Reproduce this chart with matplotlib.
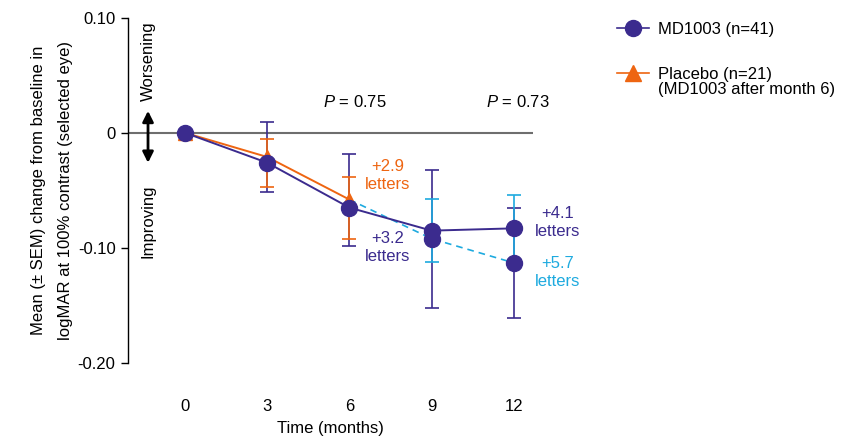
import numpy as np
import matplotlib
import matplotlib.pyplot as plt
from matplotlib.lines import Line2D

matplotlib.use("Agg")

plt.rcParams["font.family"] = ["Liberation Sans", "DejaVu Sans"]
plt.rcParams["mathtext.fontset"] = "custom"
plt.rcParams["mathtext.it"] = "Liberation Sans:italic"
plt.rcParams["mathtext.rm"] = "Liberation Sans"

PURPLE = "#3b2b8e"
ORANGE = "#ee6511"
CYAN = "#1eaadf"

# MD1003 arm
months = [0, 3, 6, 9, 12]
md_mean = [0.0, -0.026, -0.065, -0.085, -0.083]
md_sem = [0.0, 0.021, 0.027, 0.0275, 0.029]

# Placebo arm until month 6
pl_months = [0, 3, 6]
pl_mean = [0.0, -0.021, -0.058]
pl_sem = [0.0, 0.030, 0.040]

# Placebo arm switched to MD1003 after month 6
sw_months = [6, 9, 12]
sw_mean = [-0.058, -0.092, -0.113]
sw_sem = [0.040, 0.060, 0.048]

yticks = [0.10, 0.0, -0.10, -0.20]
ytick_labels = ["0.10", "0", "-0.10", "-0.20"]

fig = plt.figure(figsize=(8.58, 4.37), dpi=100)
ax = fig.add_axes([0.1492, 0.1693, 0.4720, 0.7902])

ax.axhline(0, color="#6e6e6e", lw=1.5, zorder=1)

# error bars (colours as they appear in the original figure)
eb_kw = dict(fmt="none", capsize=5.2, elinewidth=1.2, capthick=1.2, zorder=2)
ax.errorbar(pl_months[1:], pl_mean[1:], yerr=pl_sem[1:], ecolor=PURPLE, **eb_kw)
ax.errorbar(sw_months[1:], sw_mean[1:], yerr=sw_sem[1:], ecolor=PURPLE, **eb_kw)
ax.errorbar(months[1:3], md_mean[1:3], yerr=md_sem[1:3], ecolor=ORANGE, **eb_kw)
ax.errorbar(months[3:], md_mean[3:], yerr=md_sem[3:], ecolor=CYAN, **eb_kw)

# lines and markers
ax.plot(sw_months, sw_mean, color=CYAN, lw=1.2, ls=(0, (4, 3)), zorder=3)
ax.plot(pl_months, pl_mean, color=ORANGE, lw=1.4, marker="^", ms=10,
        mfc=ORANGE, mec=ORANGE, zorder=4)
ax.plot(months, md_mean, color=PURPLE, lw=1.4, marker="o", ms=11.5,
        mfc=PURPLE, mec=PURPLE, zorder=5)
ax.plot(sw_months[1:], sw_mean[1:], ls="none", marker="o", ms=11.5,
        mfc=PURPLE, mec=PURPLE, zorder=5)

ax.set_xlim(-2.08, 12.7)
ax.set_ylim(-0.20, 0.10)
ax.set_yticks(yticks)
ax.set_yticklabels(ytick_labels)
ax.set_xticks(months)
ax.set_xticklabels([str(m) for m in months])

for side in ["top", "right", "bottom"]:
    ax.spines[side].set_visible(False)
ax.spines["left"].set_linewidth(1.0)
ax.tick_params(axis="y", length=5, width=1.0, labelsize=12, pad=4)
ax.tick_params(axis="x", length=0, labelsize=12, pad=26)

ax.set_xlabel("Time (months)", fontsize=12, labelpad=5)
ax.set_ylabel("Mean (\u00b1 SEM) change from baseline in\nlogMAR at 100% contrast (selected eye)",
              fontsize=12, linespacing=2.05, labelpad=3)

# worsening / improving indicator
ax.text(-1.35, 0.062, "Worsening", rotation=90, ha="center", va="center", fontsize=12)
ax.text(-1.35, -0.077, "Improving", rotation=90, ha="center", va="center", fontsize=12)
ax.annotate("", xy=(-1.35, 0.0215), xytext=(-1.35, -0.0285),
            arrowprops=dict(arrowstyle="<|-|>", color="black", lw=2,
                            mutation_scale=16))

# P values
ax.text(6.2, 0.027, "$P$ = 0.75", ha="center", va="center", fontsize=12)
ax.text(12.15, 0.027, "$P$ = 0.73", ha="center", va="center", fontsize=12)

# letter annotations
ax.text(7.4, -0.0375, "+2.9\nletters", color=ORANGE, ha="center", va="center",
        fontsize=12, linespacing=1.25)
ax.text(7.4, -0.1, "+3.2\nletters", color=PURPLE, ha="center", va="center",
        fontsize=12, linespacing=1.25)
ax.text(13.6, -0.078, "+4.1\nletters", color=PURPLE, ha="center", va="center",
        fontsize=12, linespacing=1.25, clip_on=False)
ax.text(13.6, -0.121, "+5.7\nletters", color=CYAN, ha="center", va="center",
        fontsize=12, linespacing=1.25, clip_on=False)

# legend
handles = [
    Line2D([], [], color=PURPLE, lw=1.2, marker="o", ms=11.5, mfc=PURPLE, mec=PURPLE),
    Line2D([], [], color=ORANGE, lw=1.2, marker="^", ms=11, mfc=ORANGE, mec=ORANGE),
]
fig.legend(handles, ["MD1003 (n=41)", "Placebo (n=21)"], loc="upper left",
           bbox_to_anchor=(0.702, 0.985), frameon=False, fontsize=12,
           handlelength=1.9, handletextpad=0.55, labelspacing=1.8)
fig.text(0.767, 0.795, "(MD1003 after month 6)", fontsize=12, va="center", ha="left")

fig.savefig("out.png", dpi=100)
